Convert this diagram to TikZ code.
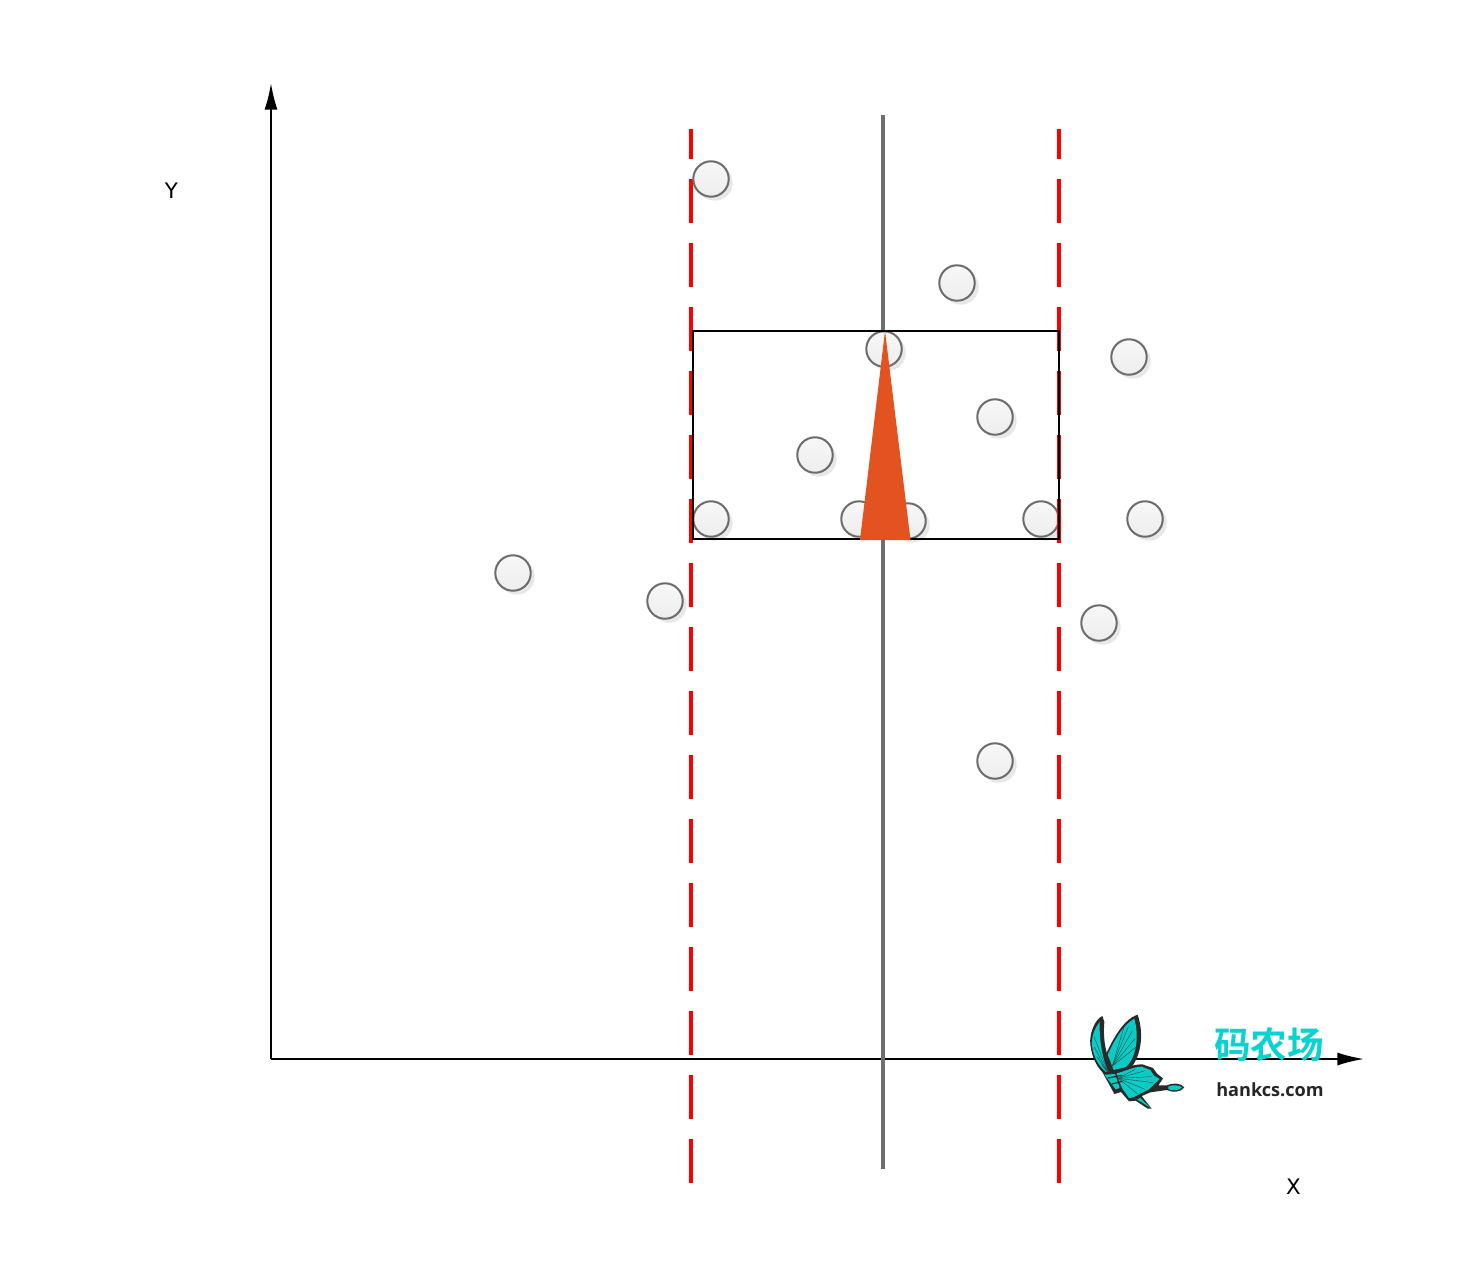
\documentclass[tikz,border=0pt]{standalone}
\usepackage{fontspec}
\setmainfont{DejaVu Sans}
\newfontfamily\cjkfont{Noto Sans CJK SC}[BoldFont={* Bold}]
\newfontfamily\logofont{Open Sans}
\usetikzlibrary{arrows.meta, shadows}
\definecolor{colorRojo}{HTML}{FF0000}
\definecolor{colorEje}{HTML}{6E6E6E}
\definecolor{colorCono}{HTML}{E2531F}
\definecolor{colorAla}{HTML}{0CCBC6}
\definecolor{colorAlaOsc}{HTML}{2A2A2A}
\definecolor{colorLogo}{HTML}{08D3CE}

\begin{document}
\begin{tikzpicture}[
        x=0.75pt, y=-0.75pt,
        pt/.style={circle, draw=black!58, line width=1.5pt, inner sep=0pt, minimum size=26.6pt,
            top color=white!97!black, bottom color=white!93!black,
            drop shadow={shadow xshift=3pt, shadow yshift=-3pt, fill=black!9, opacity=1}},
        axis/.style={line width=1.5pt, -{Latex[length=20pt, width=9.8pt]}},
        lim/.style={colorRojo, line width=3pt, dash pattern=on 33pt off 15pt, dash phase=10.5pt},
        lab/.style={font=\fontsize{16}{18}\selectfont},
        vein/.style={colorAlaOsc!80!colorAla, line width=0.3pt}
    ]
        \useasboundingbox (0,0) rectangle (1458,1278);
        \coordinate (o) at (271,1059);
        \coordinate (ytip) at (271,83);
        \coordinate (xtip) at (1364,1059);
        \coordinate (midT) at (883,115);
        \coordinate (midB) at (883,1169);
        \coordinate (limLT) at (691,129);
        \coordinate (limLB) at (691,1183);
        \coordinate (limRT) at (1059,129);
        \coordinate (limRB) at (1059,1183);
        \draw[axis] (o)--(ytip);
        \draw[axis] (o)--(xtip);
        \draw[colorEje, line width=3.4pt] (midT)--(midB);
        \draw[lim] (limLT)--(limLB);
        \draw[lim] (limRT)--(limRB);
        \foreach \x/\y [count=\i] in {711/179, 957/283, 884/349, 1129/357, 995/417, 815/455, 711/519, 859/519,
            908/521, 1041/519, 1145/519, 513/573, 665/601, 1099/623, 995/761}
            \node[pt] (p\i) at (\x,\y) {};
        \draw[lim] (limRT)--(limRB);
        \coordinate (boxA) at (693,331);
        \coordinate (boxB) at (1059,539);
        \draw[line width=1.5pt] (boxA) rectangle (boxB);
        \fill[colorCono] (885,331)--(910.5,540)--(860,540)--cycle;
        \node[lab] (ylab) at (171.5,190.5) {Y};
        \node[lab] (xlab) at (1293.5,1186.5) {X};
        % logo
        \begin{scope}[shift={(1085,1010)}, scale=1/3]
            % back wing
            \fill[colorAlaOsc] (52,18) .. controls (30,28) and (12,70) .. (16,105) .. controls (22,150) and (42,190) .. (85,210)
                -- (90,185) .. controls (68,150) and (52,100) .. (58,36) -- cycle;
            \fill[colorAla] (44,36) .. controls (28,55) and (18,85) .. (21,108) .. controls (27,148) and (48,178) .. (74,194)
                .. controls (56,160) and (42,100) .. (44,36) -- cycle;
            % front wing
            \fill[colorAlaOsc] (158,14) .. controls (115,28) and (85,85) .. (63,132) -- (82,188) -- (128,184)
                .. controls (165,150) and (180,80) .. (158,14) -- cycle;
            \fill[colorAla] (148,26) .. controls (112,46) and (86,95) .. (68,134) -- (86,180) -- (122,172)
                .. controls (152,145) and (164,85) .. (148,26) -- cycle;
            \foreach \a/\b in {118/48, 130/50, 142/62, 150/85, 152/112}
                \draw[vein] (82,168) -- (\a,\b);
            \foreach \a/\b in {27/80, 27/110, 36/140, 50/165}
                \draw[vein] (\a,\b) -- (70,190);
            % hind wing and tail
            \fill[colorAlaOsc] (54,190) -- (85,180) .. controls (120,176) and (140,163) .. (172,163) -- (204,174) -- (216,191)
                -- (234,205) -- (220,226) -- (245,226) .. controls (262,218) and (287,218) .. (298,232)
                .. controls (287,248) and (262,248) .. (245,240) -- (196,247) -- (170,258) -- (200,296) -- (188,296)
                -- (152,272) -- (132,274) -- (108,246) -- (88,252) -- (74,226) -- cycle;
            \fill[colorAla] (95,190) .. controls (125,182) and (145,171) .. (170,170) -- (196,180) -- (207,197) -- (224,207)
                -- (208,222) -- (192,238) -- (164,252) -- (145,262) -- (132,264) -- (112,236) -- (102,212) -- cycle;
            \fill[colorAla] (250,229) .. controls (265,224) and (282,225) .. (291,232) .. controls (282,242) and (265,243) .. (250,238) -- cycle;
            \fill[colorAla] (58,194) -- (90,192) -- (104,234) -- (92,238) -- cycle;
            \fill[colorAla] (156,268) -- (166,264) -- (197,294) -- cycle;
            \foreach \a/\b in {150/178, 180/182, 200/200, 205/218, 180/238, 158/252}
                \draw[vein] (100,205) -- (\a,\b);
            \draw[colorAlaOsc, line width=0.9pt] (68,204) -- (112,196) (80,222) -- (112,214);
        \end{scope}
        \node[font=\cjkfont\bfseries\fontsize{27.4}{30}\selectfont, text=colorLogo, inner sep=0pt] (logoA) at (1269,1045) {码农场};
        \node[font=\logofont\bfseries\fontsize{13.6}{16}\selectfont, text=black!85, inner sep=0pt] (logoB) at (1270,1090) {hankcs.com};
    \end{tikzpicture}
\end{document}
